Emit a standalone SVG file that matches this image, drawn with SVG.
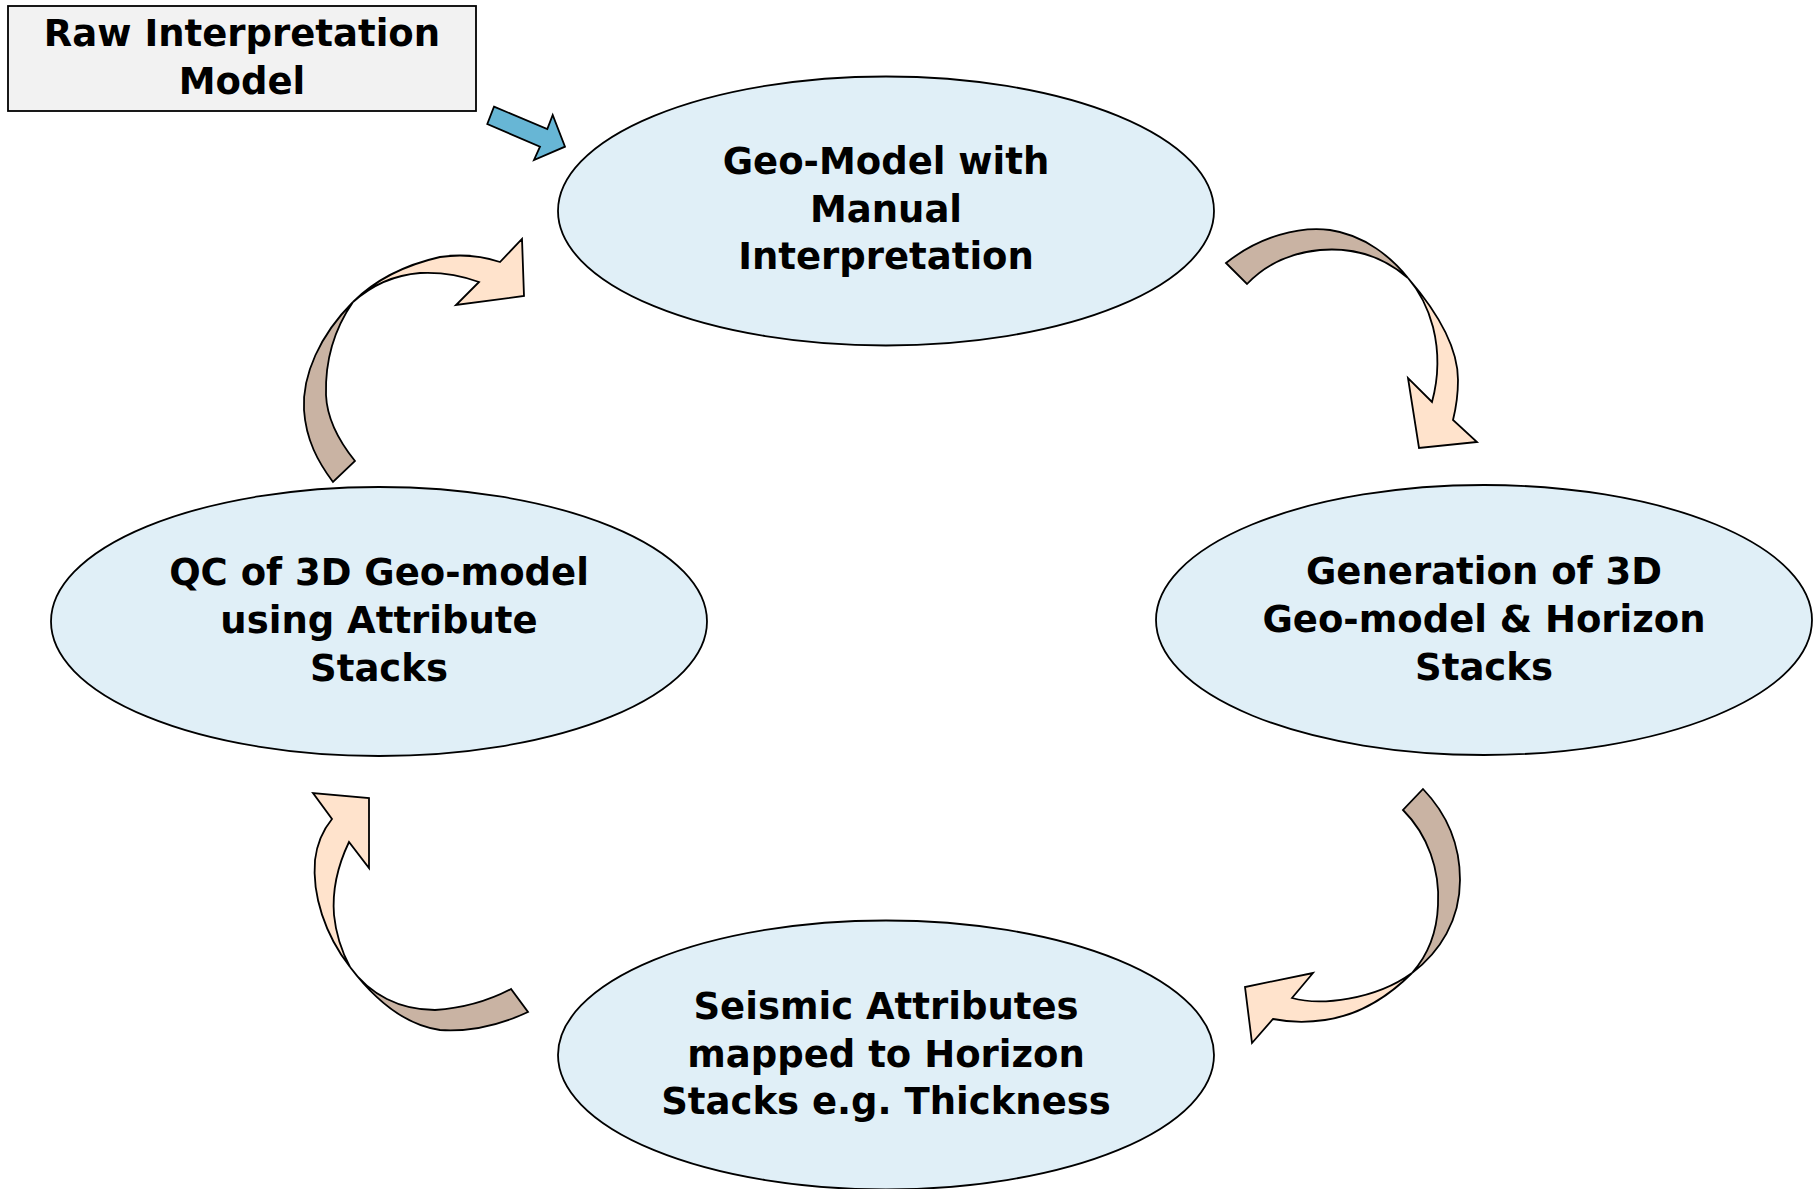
<svg xmlns="http://www.w3.org/2000/svg" width="1818" height="1189" viewBox="0 0 1818 1189">
<style>
.node ellipse{fill:#E0EFF7;stroke:#000;stroke-width:1.8}
.box{fill:#F2F2F2;stroke:#000;stroke-width:1.8}
text{font-family:"DejaVu Sans","Liberation Sans",sans-serif;font-weight:bold;font-size:37px;fill:#000;text-anchor:middle}
.back{fill:#C9B3A3;stroke:#000;stroke-width:1.8;stroke-linejoin:miter}
.front{fill:#FFE3CC;stroke:#000;stroke-width:1.8;stroke-linejoin:miter}
.blue{fill:#67B6D5;stroke:#000;stroke-width:1.8;stroke-linejoin:miter}
</style>
<rect width="1818" height="1189" fill="#fff"/>
<g id="raw-model" class="node">
<rect class="box" x="8" y="6" width="468" height="105"/>
<text x="242" y="46">Raw Interpretation</text>
<text x="242" y="94">Model</text>
</g>
<g id="geo-model-manual" class="node">
<ellipse cx="886" cy="211" rx="328" ry="134.5"/>
<text x="886" y="174">Geo-Model with</text>
<text x="886" y="221.5">Manual</text>
<text x="886" y="269">Interpretation</text>
</g>
<g id="generation-3d" class="node">
<ellipse cx="1484" cy="620" rx="328" ry="135"/>
<text x="1484" y="584">Generation of 3D</text>
<text x="1484" y="632">Geo-model &amp; Horizon</text>
<text x="1484" y="680">Stacks</text>
</g>
<g id="seismic-attributes" class="node">
<ellipse cx="886" cy="1055" rx="328" ry="134.5"/>
<text x="886" y="1019">Seismic Attributes</text>
<text x="886" y="1067">mapped to Horizon</text>
<text x="886" y="1114">Stacks e.g. Thickness</text>
</g>
<g id="qc-3d" class="node">
<ellipse cx="379" cy="621.5" rx="328" ry="134.5"/>
<text x="379" y="585">QC of 3D Geo-model</text>
<text x="379" y="633">using Attribute</text>
<text x="379" y="681">Stacks</text>
</g>
<g id="connectors">
<polygon class="blue" points="494,106.7 547.3,129 552.7,115 565,146.7 534,160 540,146.7 487.3,124"/>
<!-- top-right -->
<path class="back" d="M1226,263 C1260,236 1300,226 1330,230 C1365,235 1392,258 1408,278 C1385,258 1355,247 1320,250 C1290,253 1265,265 1247,284 Z"/>
<path class="front" d="M1408,278 C1440,315 1458,350 1458,380 C1458,395 1456,408 1453,420 L1477,442 L1419,448 L1408,378 L1432,402 C1438,380 1440,355 1433,327 C1428,308 1420,292 1408,278 Z"/>
<!-- bottom-right -->
<path class="back" d="M1423,789 C1448,815 1460,845 1460,880 C1460,920 1440,952 1412,973 C1428,955 1437,932 1438,905 C1440,870 1428,835 1403,810 Z"/>
<path class="front" d="M1412,973 C1390,995 1360,1015 1325,1020 C1305,1023 1288,1022 1273,1019 L1252,1043 L1245,987 L1313,973 L1292,998 C1320,1006 1375,1000 1412,973 Z"/>
<!-- bottom-left -->
<path class="back" d="M350,967 C375,1000 405,1025 440,1030 C470,1032 500,1025 528,1012 L511,989 C490,1000 465,1008 435,1010 C400,1010 370,995 350,967 Z"/>
<path class="front" d="M350,967 C325,935 312,895 315,860 C317,843 323,830 332,819 L313,793 L369,798 L369,868 L349,842 C338,865 332,890 334,915 C336,935 342,952 350,967 Z"/>
<!-- top-left -->
<path class="back" d="M353,302 C320,335 302,375 304,410 C306,440 318,462 333,482 L355,461 C338,440 327,418 326,395 C325,360 335,328 353,302 Z"/>
<path class="front" d="M353,302 C375,280 405,265 440,257 C460,254 482,256 500,262 L522,239 L524,296 L456,305 L479,282 C460,275 440,272 420,273 C395,275 372,285 353,302 Z"/>
</g>
</svg>
